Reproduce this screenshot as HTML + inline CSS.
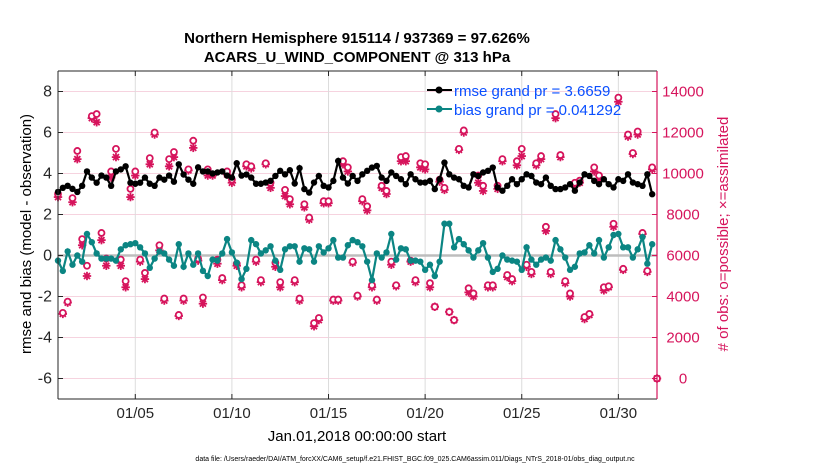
<!DOCTYPE html>
<html><head><meta charset="utf-8"><style>
html,body{margin:0;padding:0;background:#fff;}
svg{display:block;font-family:"Liberation Sans",Arial,sans-serif;}
</style></head><body>
<svg id="chart" width="830" height="470" viewBox="0 0 830 470" xmlns="http://www.w3.org/2000/svg">
<text x="357" y="43" text-anchor="middle" font-size="15" font-weight="bold">Northern Hemisphere 915114 / 937369 = 97.626%</text>
<text x="357" y="62" text-anchor="middle" font-size="15" font-weight="bold">ACARS_U_WIND_COMPONENT @ 313 hPa</text>
<g id="grid"></g>
<g id="marks"></g>
<g id="axes"></g>
<text transform="translate(31,234) rotate(-90)" text-anchor="middle" font-size="15">rmse and bias (model - observation)</text>
<text transform="translate(728,234) rotate(-90)" text-anchor="middle" font-size="15" fill="#d6145c"># of obs: o=possible; ×=assimilated</text>
<text x="357" y="441" text-anchor="middle" font-size="15">Jan.01,2018 00:00:00 start</text>
<text x="415" y="461" text-anchor="middle" font-size="7">data file: /Users/raeder/DAI/ATM_forcXX/CAM6_setup/f.e21.FHIST_BGC.f09_025.CAM6assim.011/Diags_NTrS_2018-01/obs_diag_output.nc</text>
<g>
<line x1="427" y1="90" x2="452" y2="90" stroke="#000" stroke-width="2"/><circle cx="439" cy="90" r="3.5" fill="#000"/>
<text x="454" y="96" font-size="15" fill="#0a4fff">rmse grand pr = 3.6659</text>
<line x1="427" y1="109" x2="452" y2="109" stroke="#0b8583" stroke-width="2"/><circle cx="439" cy="109" r="3.5" fill="#0b8583"/>
<text x="454" y="115" font-size="15" fill="#0a4fff">bias grand pr = 0.041292</text>
</g>
</svg>
<script>
const rmse=[3.1,3.3,3.4,3.25,3.1,3.4,4.1,3.8,3.55,3.9,3.8,3.4,4.1,4.2,4.35,3.55,3.5,3.55,3.8,3.5,3.4,3.8,3.7,3.9,3.6,4.45,3.95,3.7,3.5,4.3,4.1,4.1,4.0,4.05,4.1,3.9,3.8,4.5,3.9,3.95,3.8,3.5,3.5,
3.56,3.64,3.88,4.13,3.96,4.16,3.51,4.26,3.24,3.07,3.56,3.88,3.4,3.32,3.64,4.61,3.8,3.51,3.88,3.64,3.96,4.13,4.29,4.37,3.8,3.64,4.05,3.88,3.72,3.48,3.96,3.72,3.56,3.56,3.64,3.24,3.72,4.53,3.96,3.8,3.72,
3.4,3.32,3.96,3.88,4.05,4.13,4.29,3.32,3.16,3.4,3.72,3.48,3.72,3.96,3.88,3.56,3.48,3.8,3.4,3.24,3.24,3.32,3.48,3.16,3.56,3.96,3.88,3.64,3.48,3.72,3.48,3.32,3.72,3.64,3.96,3.56,3.48,3.4,3.96,2.99];
const bias=[-0.25,-0.75,0.2,-0.45,0,-0.3,1.05,0.65,0.1,-0.15,-0.15,-0.15,-0.25,0.3,0.5,0.55,0.6,0.4,0.1,-0.6,-0.15,0.2,0.1,-0.2,-0.5,0.55,-0.55,0.1,-0.45,0.1,-0.75,-1.0,-0.2,-0.25,0.1,0.8,0.15,-0.35,-1.15,-0.65,0.75,0.55,0.1,
0.25,0.45,-0.25,-0.7,0.3,0.45,0.45,-0.3,0.35,0.3,-0.3,0.45,0.15,0.35,0.75,-0.1,-0.1,0.5,0.75,0.65,0.45,-0.3,-1.2,0.1,-0.1,0.15,1.05,-0.2,0.35,0.3,-0.25,-0.25,-0.3,-0.7,-0.45,-1.0,-0.3,1.55,1.55,0.4,0.8,
0.55,0.25,-0.1,0.25,0.6,-0.1,-0.8,-0.65,0,-0.2,-0.25,-0.3,-0.7,0.4,-0.2,-0.45,-0.2,-0.1,-0.25,0.75,0.3,-0.1,-0.7,-0.55,0.1,0.15,0.5,0.1,0.75,-0.1,0.4,1.0,1.05,0.4,0.4,-0.1,0.3,0.9,-0.4,0.55];
const nPossible=[9000,3200,3750,8800,11100,6800,5500,12800,12900,7100,5850,10100,11200,5800,4750,9250,10100,5800,5150,10750,12000,6500,3900,10700,11050,3100,3900,10200,11600,5850,3950,10200,9950,5800,4900,10100,9700,5600,4550,10450,10350,5800,4800,
10500,9550,5650,4700,9200,8750,4800,3900,8500,7850,2700,2950,8650,8650,3850,3850,10600,10300,5700,4050,8750,8400,4550,3850,9400,9150,5700,4550,10800,10850,5750,4800,10500,10450,4650,3500,9700,9300,3250,2850,11200,
12100,4400,4150,9900,9400,4550,4550,9400,10700,5050,4850,10600,11200,5550,5200,10500,10850,7400,5200,12900,10900,4750,4150,9550,9650,3000,3150,10300,9900,4450,4500,7550,13700,5350,11900,11000,12050,7100,5250,10300,0];
const nUsed=[8850,3150,3700,8600,10700,6500,5000,12700,12500,6750,5500,9800,10800,5500,4450,8850,9900,5700,4850,10450,11900,6250,3800,10350,10800,3050,3800,10150,11250,5750,3650,9900,9900,5600,4800,9950,9550,5500,4450,10350,10250,5700,4700,
10450,9300,5450,4450,8900,8500,4700,3800,8350,7750,2550,2850,8550,8550,3800,3800,10450,10100,5650,4000,8650,8200,4450,3800,9300,9000,5550,4500,10600,10600,5700,4700,10300,10200,4450,3500,9600,9200,3250,2850,11150,
12000,4200,4000,9550,9150,4450,4450,9250,10600,4950,4750,10400,10850,5450,5100,10400,10700,7200,5100,12700,10800,4650,4000,9450,9550,2900,3100,10100,9700,4300,4450,7400,13500,5300,11800,10950,11900,7050,5200,10200,0];
const xTickDays=[4,9,14,19,24,29];
const xTickLabels=["01/05","01/10","01/15","01/20","01/25","01/30"];
const yTicksLeft=[-6,-4,-2,0,2,4,6,8];
const yTicksRight=[0,2000,4000,6000,8000,10000,12000,14000];
const stepDays=0.25;

const L=58,R=657,T=71,B=399;
const xMin=0,xMax=31,yMin=-7,yMax=9,cMin=-1000,cMax=15000;
const X=d=>L+(d-xMin)/(xMax-xMin)*(R-L);
const Y=v=>B-(v-yMin)/(yMax-yMin)*(B-T);
const YC=c=>B-(c-cMin)/(cMax-cMin)*(B-T);
const NS="http://www.w3.org/2000/svg";
function mk(tag,attrs,parent){const e=document.createElementNS(NS,tag);for(const k in attrs)e.setAttribute(k,attrs[k]);parent.appendChild(e);return e;}
const grid=document.getElementById('grid'),marks=document.getElementById('marks'),axes=document.getElementById('axes');
mk('rect',{x:L,y:T,width:R-L,height:B-T,fill:'#fff'},grid);
yTicksRight.forEach(c=>{const l=mk('line',{x1:L,x2:R,y1:YC(c),y2:YC(c),stroke:'#f6d3df','stroke-width':1},grid);

});
xTickDays.forEach(d=>{const l=mk('line',{x1:X(d),x2:X(d),y1:T,y2:B,stroke:'#dcdcdc','stroke-width':1},grid);

});
const z=mk('line',{x1:L,x2:R,y1:Y(0),y2:Y(0),stroke:'#bdbdbd','stroke-width':2.5},marks);


const col='#d6145c';
nUsed.forEach((c,i)=>{const x=X(i*stepDays),y=YC(c);const g=mk('g',{stroke:col,'stroke-width':1.8},marks);


mk('line',{x1:x-4.2,x2:x+4.2,y1:y,y2:y},g);mk('line',{x1:x,x2:x,y1:y-4.2,y2:y+4.2},g);
mk('line',{x1:x-3,x2:x+3,y1:y-3,y2:y+3},g);mk('line',{x1:x-3,x2:x+3,y1:y+3,y2:y-3},g);});
nPossible.forEach((c,i)=>{const cc=mk('circle',{cx:X(i*stepDays),cy:YC(c),r:3,fill:'#fff',stroke:col,'stroke-width':1.8},marks);

});
function series(vals,color,name){
const p=mk('polyline',{points:vals.map((v,i)=>X(i*stepDays)+','+Y(v)).join(' '),fill:'none',stroke:color,'stroke-width':2.2},marks);


vals.forEach((v,i)=>{const c=mk('circle',{cx:X(i*stepDays),cy:Y(v),r:3.2,fill:color},marks);

});}
series(bias,'#0b8583','bias');
series(rmse,'#000','rmse');
mk('line',{x1:L,x2:R,y1:T,y2:T,stroke:'#262626','stroke-width':1},axes);
mk('line',{x1:L,x2:R,y1:B,y2:B,stroke:'#262626','stroke-width':1},axes);
mk('line',{x1:L,x2:L,y1:T,y2:B,stroke:'#262626','stroke-width':1},axes);
mk('line',{x1:R,x2:R,y1:T,y2:B,stroke:col,'stroke-width':1.2},axes);
yTicksLeft.forEach(v=>{mk('line',{x1:L,x2:L+5,y1:Y(v),y2:Y(v),stroke:'#262626'},axes);
const t=mk('text',{x:L-6,y:Y(v)+5,'text-anchor':'end','font-size':16,fill:'#262626'},axes);t.textContent=v;

});
yTicksRight.forEach(c=>{mk('line',{x1:R-5,x2:R,y1:YC(c),y2:YC(c),stroke:col},axes);
const t=mk('text',{x:R+26,y:YC(c)+5,'text-anchor':'middle','font-size':15,fill:col},axes);t.textContent=c;

});
xTickDays.forEach((d,k)=>{mk('line',{x1:X(d),x2:X(d),y1:B,y2:B-5,stroke:'#262626'},axes);mk('line',{x1:X(d),x2:X(d),y1:T,y2:T+5,stroke:'#262626'},axes);
const t=mk('text',{x:X(d),y:418,'text-anchor':'middle','font-size':15,fill:'#262626'},axes);t.textContent=xTickLabels[k];

});
</script>
</body></html>
